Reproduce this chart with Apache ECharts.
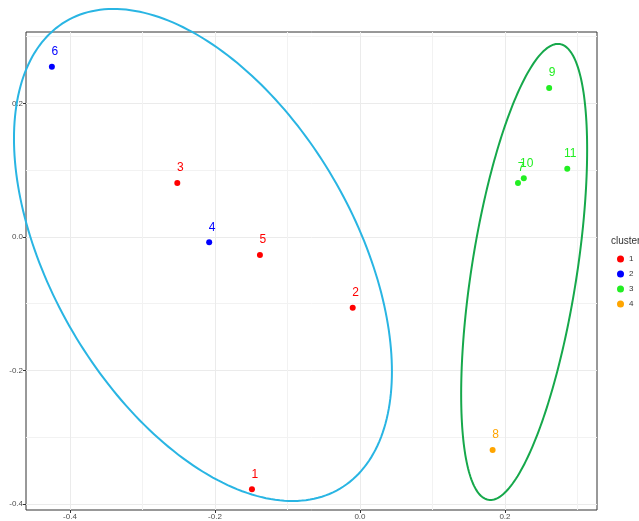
<!DOCTYPE html>
<html>
<head>
<meta charset="utf-8">
<script src="https://cdn.jsdelivr.net/npm/echarts@6/dist/echarts.min.js"></script>
<style>html,body{margin:0;padding:0;background:#fff}#c{width:639px;height:521px}</style>
</head>
<body>
<div id="c"></div>
<script>
const ids = ['1','2','3','4','5','6','7','8','9','10','11'];
const xs = [-0.149,-0.010,-0.252,-0.208,-0.138,-0.425,0.218,0.183,0.261,0.226,0.286];
const ys = [-0.378,-0.106,0.081,-0.008,-0.027,0.255,0.081,-0.319,0.223,0.088,0.102];
const clusters = [1,1,1,2,1,2,3,4,3,3,3];
const clusterNames = ['1','2','3','4'];
const clusterColors = ['#FF0000','#0000FF','#22EE22','#FFA500'];
const xTicks = [-0.4,-0.2,0.0,0.2];
const yTicks = [-0.4,-0.2,0.0,0.2];
const xMinor = [-0.3,-0.1,0.1,0.3];
const yMinor = [-0.3,-0.1,0.1,0.3];
const xRange = [-0.4607, 0.327];
const yRange = [-0.409, 0.307];
// ellipse: center and covariance [sxx, sxy, syy]
const ellipseCenters = [[-0.2166,-0.027],[0.2265,-0.0524]];
const ellipseCov = [[0.06796,-0.04546,0.13582],[0.007551,0.01591,0.11667]];
const ellipseColors = ['#29B5E3','#16A84B'];

function ellipsePts(c, s){
  const l11 = Math.sqrt(s[0]);
  const l21 = s[1]/l11;
  const l22 = Math.sqrt(s[2]-l21*l21);
  const pts=[];
  for(let i=0;i<=240;i++){
    const t=2*Math.PI*i/240;
    const a=Math.cos(t), b=Math.sin(t);
    pts.push([c[0]+l11*a, c[1]+l21*a+l22*b]);
  }
  return pts;
}

const font = 'Liberation Sans, Arial, sans-serif';
const series = [];
ellipseCenters.forEach((c,i)=>{
  const pts = ellipsePts(c, ellipseCov[i]);
  series.push({type:'custom', data:[c], clip:false, silent:true, z:1,
    renderItem:(params, api)=>({
      type:'polyline',
      shape:{points: pts.map(p=>api.coord(p))},
      style:{stroke:ellipseColors[i], lineWidth:2, fill:null}
    })});
});
clusterNames.forEach((n,k)=>{
  const data=[];
  ids.forEach((id,i)=>{ if(clusters[i]===k+1) data.push([xs[i],ys[i],id]); });
  series.push({type:'scatter', name:n, data, symbolSize:6, itemStyle:{color:clusterColors[k], opacity:1}, z:3,
    label:{show:true, position:'top', distance:6, offset:[3,0], formatter:p=>p.value[2],
      color:clusterColors[k], fontSize:12, fontFamily:font}});
});

const chart = echarts.init(document.getElementById('c'));
const axisCommon = {type:'value', axisLine:{show:false, onZero:false}};
chart.setOption({
  animation:false,
  backgroundColor:'#fff',
  grid:{left:26,right:42,top:32,bottom:11,show:true,borderColor:'#333',borderWidth:1,containLabel:false},
  xAxis:[
    Object.assign({}, axisCommon, {min:xRange[0], max:xRange[1],
      axisTick:{show:true, length:3, lineStyle:{color:'#333'}, customValues:xTicks},
      axisLabel:{customValues:xTicks, color:'#4D4D4D', fontSize:8, fontFamily:font, margin:3,
        formatter:v=>v.toFixed(1)},
      splitLine:{show:true, lineStyle:{color:'#EBEBEB', width:1}}}),
    Object.assign({}, axisCommon, {min:xRange[0], max:xRange[1], position:'bottom',
      axisTick:{show:false, customValues:xMinor}, axisLabel:{show:false, customValues:xMinor},
      splitLine:{show:true, lineStyle:{color:'#F2F2F2', width:1}}})
  ],
  yAxis:[
    Object.assign({}, axisCommon, {min:yRange[0], max:yRange[1],
      axisTick:{show:true, length:3, lineStyle:{color:'#333'}, customValues:yTicks},
      axisLabel:{customValues:yTicks, color:'#4D4D4D', fontSize:8, fontFamily:font, margin:3,
        formatter:v=>v.toFixed(1)},
      splitLine:{show:true, lineStyle:{color:'#EBEBEB', width:1}}}),
    Object.assign({}, axisCommon, {min:yRange[0], max:yRange[1], position:'left',
      axisTick:{show:false, customValues:yMinor}, axisLabel:{show:false, customValues:yMinor},
      splitLine:{show:true, lineStyle:{color:'#F2F2F2', width:1}}})
  ],
  legend:{orient:'vertical', left:612, top:250, itemWidth:7, itemHeight:7, itemGap:7,
    icon:'circle', data:clusterNames, textStyle:{fontSize:8, color:'#333', fontFamily:font}},
  graphic:[{type:'text', left:611, top:236, style:{text:'clusters', fontSize:10, fill:'#333', fontFamily:font}}],
  series
});
</script>
</body>
</html>
